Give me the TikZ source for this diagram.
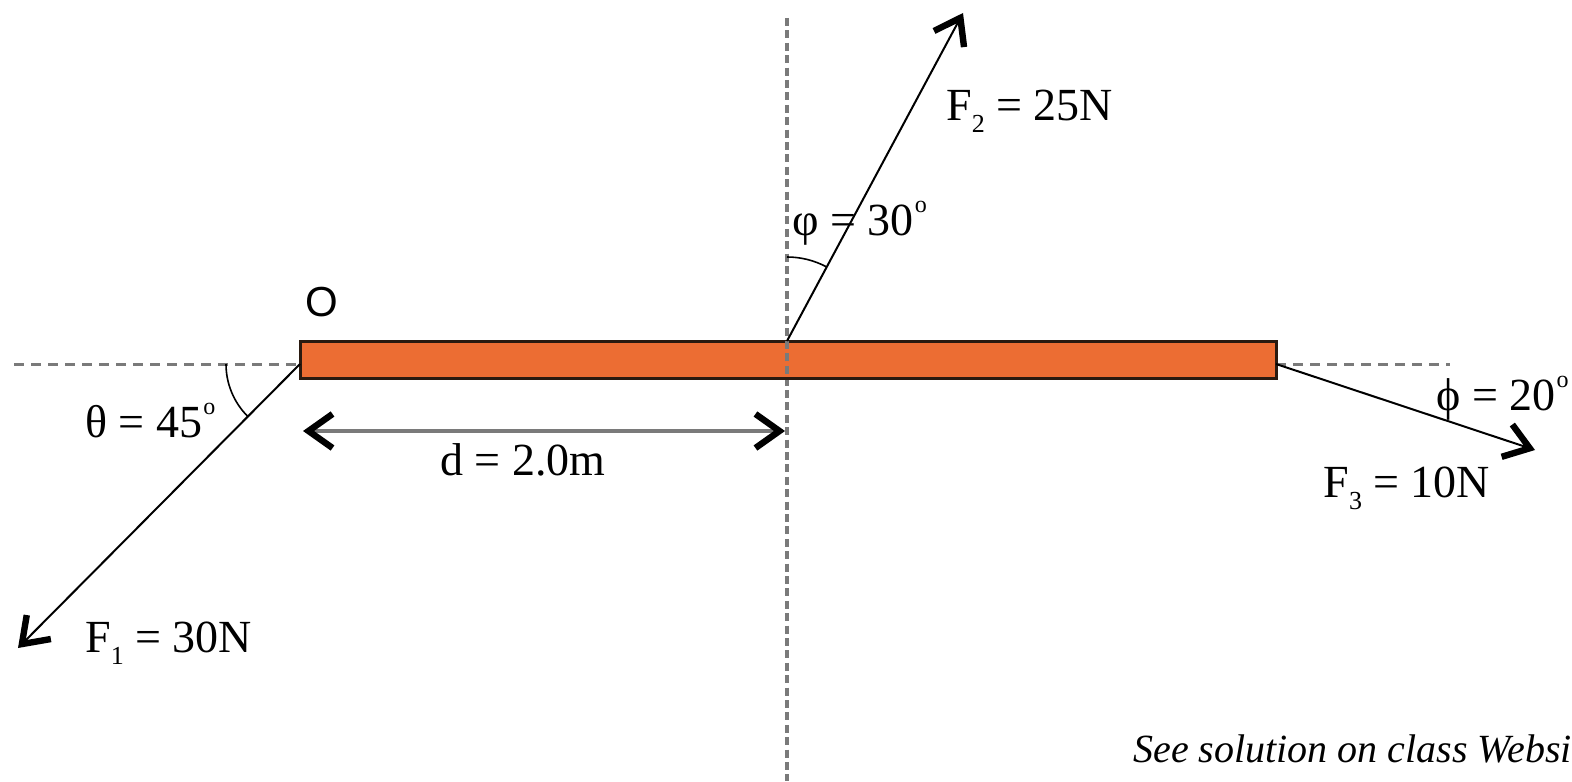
\documentclass[tikz,border=0pt]{standalone}
\usepackage{fontspec}
\setmainfont{Liberation Serif}
\newfontfamily\osans{Liberation Sans}
\usetikzlibrary{arrows.meta}
\definecolor{rodfill}{HTML}{EC6D33}
\definecolor{rodedge}{HTML}{2A1A10}
\definecolor{dashgray}{HTML}{7A7A7A}
\newcommand{\degs}{\kern0.02em\raisebox{0.5em}{\fontsize{12}{12}\selectfont o}}
\newcommand{\subs}[1]{\raisebox{-0.28em}{\fontsize{13}{13}\selectfont #1}}
\tikzset{
  barb/.tip={Straight Barb[length=12pt,width=17pt,line width=3.2pt]},
  force/.style={line width=1pt, -barb},
  dimline/.style={draw=dashgray, line width=1.8pt,
    {Straight Barb[length=12pt,width=17pt,line width=3.2pt,black]}-{Straight Barb[length=12pt,width=17pt,line width=3.2pt,black]}},
  hguide/.style={draw=dashgray, line width=1.5pt, dash pattern=on 5pt off 3.5pt},
  vguide/.style={draw=dashgray, line width=1.6pt, dash pattern=on 4pt off 2.2pt},
  lbl/.style={font=\fontsize{23}{27}\selectfont, inner sep=0pt, anchor=base west},
  anglearc/.style={line width=0.8pt},
  rodbox/.style={draw=rodedge, fill=rodfill, line width=1.5pt},
}
\begin{document}
\begin{tikzpicture}[x=0.5pt,y=-0.5pt]
\useasboundingbox (0,0) rectangle (1572,781);
% key points
\coordinate (L) at (300,364);
\coordinate (R) at (1276,364);
\coordinate (M) at (787,341);
\coordinate (hl) at (14,364);
\coordinate (hr) at (1450,364);
\coordinate (vt) at (787,18);
\coordinate (vb) at (787,781);
\coordinate (t1) at (18,648);
\coordinate (t2) at (963,13);
\coordinate (t3) at (1535,450);
\coordinate (d1) at (303,431);
\coordinate (d2) at (785,431);
% guides
\draw[hguide] (hl) -- (L);
\draw[hguide] (R) -- (hr);
\draw[vguide] (vt) -- (vb);
% rod
\draw[rodbox] (300,341) rectangle (1276,378);
\draw[vguide] (787,341) -- (787,378);
% forces
\draw[force] (L) -- (t1);
\draw[force] (M) -- (t2);
\draw[force] (R) -- (t3);
% dimension
\draw[dimline] (d1) -- (d2);
% angle arcs
\draw[anglearc] (226,364) arc[start angle=180, end angle=135, radius=74];
\draw[anglearc] (787,257) arc[start angle=270, end angle=298, radius=84];
% labels
\node[font=\osans\fontsize{21}{25}\selectfont, inner sep=0pt] (O) at (322,302) {O};
\node[lbl] (th) at (85,437) {θ = 45\degs};
\node[lbl] (d) at (440,475) {d = 2.0m};
\node[lbl] (f2) at (946,120) {F\subs{2} = 25N};
\node[lbl] (ph) at (792,235) {φ = 30\degs};
\node[lbl] (ph2) at (1436,410) {ϕ = 20\degs};
\node[lbl] (f3) at (1323,497) {F\subs{3} = 10N};
\node[lbl] (f1) at (85,652) {F\subs{1} = 30N};
\node[font=\fontsize{20}{24}\selectfont\itshape, inner sep=0pt, anchor=base west] (note) at (1133,762) {See solution on class Websi};
\end{tikzpicture}
\end{document}
